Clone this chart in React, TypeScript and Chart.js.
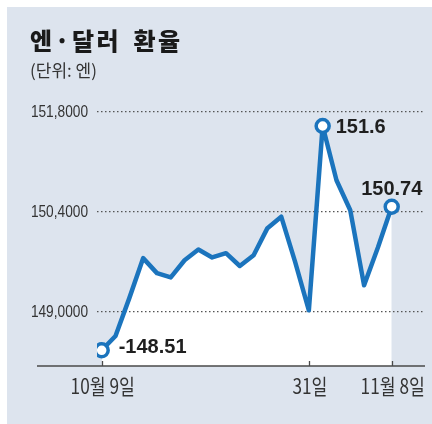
import React, { useEffect, useRef } from "react";
import { Chart, registerables } from "chart.js";

Chart.register(...registerables);

// trading days (categories)
const dates = [
  "10/9", "10/10", "10/11", "10/12", "10/13", "10/16", "10/17", "10/18",
  "10/19", "10/20", "10/23", "10/24", "10/25", "10/26", "10/27", "10/31",
  "11/1", "11/2", "11/3", "11/6", "11/7", "11/8",
];
// yen per dollar
const rates = [
  148.46, 148.66, 149.19, 149.75, 149.54, 149.48, 149.72, 149.87, 149.76,
  149.82, 149.64, 149.79, 150.17, 150.33, 149.70, 149.02, 151.6, 150.84,
  150.42, 149.37, 149.9, 150.47,
];
// x-axis ticks
const xTickIndex = [0, 15, 21];
const xTickLabels = ["10월 9일", "31일", "11월 8일"];
// y-axis ticks
const yTickValues = [149.0, 150.4, 151.8];
const yTickLabels = ["149,0000", "150,4000", "151,8000"];
// annotated points
const markIndex = [0, 16, 21];
const markTexts = ["-148.51", "151.6", "150.74"];

const BLUE = "#1b74bd";
const BG = "#dde4ee";

const overlay = {
  id: "overlay",
  afterDatasetsDraw(chart: any) {
    const { ctx, chartArea } = chart;
    const xs = chart.scales.x;
    const ys = chart.scales.y;
    const meta = chart.getDatasetMeta(0);
    ctx.save();
    // x axis line (extends to the left under the y labels)
    ctx.strokeStyle = "#4a4a4a";
    ctx.lineWidth = 1.3;
    ctx.beginPath();
    ctx.moveTo(chartArea.left - 60, chartArea.bottom);
    ctx.lineTo(chartArea.right, chartArea.bottom);
    xTickIndex.forEach((i) => {
      const x = Math.round(xs.getPixelForValue(i)) + 0.5;
      ctx.moveTo(x, chartArea.bottom);
      ctx.lineTo(x, chartArea.bottom - 5);
    });
    ctx.stroke();

    // y tick labels (condensed)
    ctx.fillStyle = "#333";
    ctx.font = "16.5px 'Liberation Sans', Arial, sans-serif";
    ctx.textAlign = "right";
    ctx.textBaseline = "middle";
    yTickValues.forEach((v, k) => {
      const y = ys.getPixelForValue(v);
      ctx.save();
      ctx.translate(chartArea.left - 9, y + 0.5);
      ctx.scale(0.83, 1);
      ctx.fillText(yTickLabels[k], 0, 0);
      ctx.restore();
    });

    // x tick labels (condensed)
    ctx.font = "21px 'Noto Sans CJK KR', sans-serif";
    ctx.textAlign = "center";
    ctx.textBaseline = "middle";
    xTickIndex.forEach((i, k) => {
      const x = xs.getPixelForValue(i);
      ctx.save();
      ctx.translate(x + 1, chartArea.bottom + 20.5);
      ctx.scale(0.82, 1);
      ctx.fillText(xTickLabels[k], 0, 0);
      ctx.restore();
    });

    // value labels
    ctx.fillStyle = "#1f1f1f";
    ctx.font = "bold 20px 'Liberation Sans', Arial, sans-serif";
    markIndex.forEach((i, k) => {
      const el = meta.data[i];
      const t = markTexts[k];
      if (k === 0) {
        ctx.textAlign = "left";
        ctx.textBaseline = "middle";
        ctx.fillText(t, el.x + 17, el.y - 3);
      } else if (k === 1) {
        ctx.textAlign = "left";
        ctx.textBaseline = "middle";
        ctx.fillText(t, el.x + 13, el.y + 1);
      } else {
        ctx.textAlign = "center";
        ctx.textBaseline = "alphabetic";
        ctx.fillText(t, el.x, el.y - 12);
      }
    });
    ctx.restore();
  },
};

export default function App() {
  const ref = useRef<HTMLCanvasElement | null>(null);
  useEffect(() => {
    if (!ref.current) return;
    const chart = new Chart(ref.current, {
      type: "line",
      data: {
        labels: dates,
        datasets: [
          {
            data: rates.map((v, i) => ({ x: i, y: v })),
            borderColor: BLUE,
            borderWidth: 4.5,
            borderJoinStyle: "round",
            borderCapStyle: "round",
            tension: 0,
            fill: "start",
            backgroundColor: "#ffffff",
            pointRadius: (c: any) => (markIndex.includes(c.dataIndex) ? 6.5 : 0),
            pointBorderWidth: 3.5,
            pointBackgroundColor: "#ffffff",
            pointBorderColor: BLUE,
            pointHoverRadius: 0,
          } as any,
        ],
      },
      options: {
        responsive: false,
        animation: false,
        devicePixelRatio: 1,
        layout: { autoPadding: false, padding: { left: 32, right: 7, top: 100, bottom: 27 } },
        plugins: {
          legend: { display: false },
          tooltip: { enabled: false },
          filler: { drawTime: "beforeDraw" } as any,
        },
        scales: {
          x: {
            type: "linear",
            min: -0.34,
            max: 23.41,
            grid: { display: false, drawTicks: false },
            border: { display: false },
            afterBuildTicks: (s: any) => {
              s.ticks = xTickIndex.map((v) => ({ value: v }));
            },
            afterFit: (s: any) => {
              s.height = 31;
            },
            ticks: { display: false, autoSkip: false, maxRotation: 0 },
          },
          y: {
            min: 148.24,
            max: 151.964,
            grid: { color: "#555", lineWidth: 1.2, drawTicks: false },
            border: { display: false, dash: [1.5, 2.5] },
            afterBuildTicks: (s: any) => {
              s.ticks = yTickValues.map((v) => ({ value: v }));
            },
            afterFit: (s: any) => {
              s.width = 65;
            },
            ticks: { display: false },
          },
        },
      },
      plugins: [overlay],
    });
    return () => chart.destroy();
  }, []);

  return (
    <div style={{ position: "absolute", left: 0, top: 0, width: 432, height: 424, background: "#fff", overflow: "hidden" }}>
      <div style={{ position: "absolute", left: 7, top: 7, right: 0, bottom: 0, background: BG }} />
      <canvas ref={ref} width={432} height={424} style={{ position: "absolute", left: 0, top: 0, width: 432, height: 424 }} />
      <div
        style={{
          position: "absolute",
          left: 30,
          top: 28,
          fontFamily: "'Noto Sans CJK KR', sans-serif",
          fontWeight: 900,
          fontSize: 24,
          lineHeight: 1,
          color: "#1a1a1a",
          whiteSpace: "nowrap",
          letterSpacing: 2.6,
          wordSpacing: 4,
        }}
      >
        엔·달러 환율
      </div>
      <div
        style={{
          position: "absolute",
          left: 30,
          top: 61,
          fontFamily: "'Noto Sans CJK KR', sans-serif",
          fontSize: 17,
          lineHeight: 1,
          color: "#333",
          whiteSpace: "nowrap",
        }}
      >
        (단위: 엔)
      </div>
    </div>
  );
}
